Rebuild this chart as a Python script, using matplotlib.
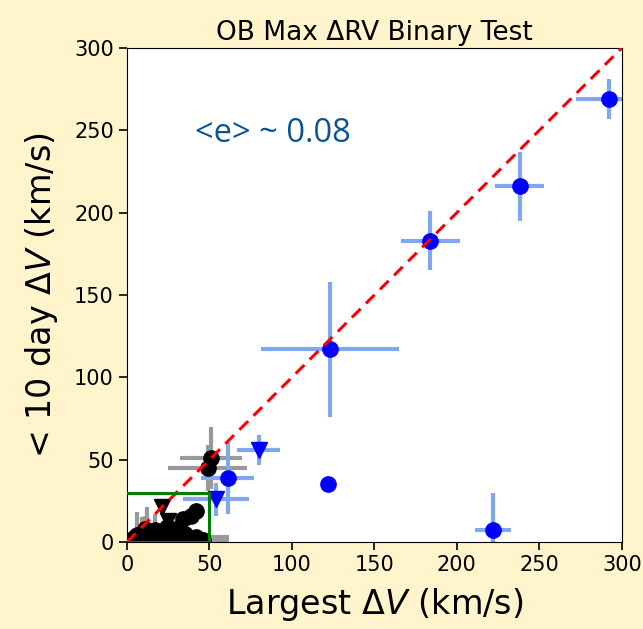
import numpy as np
import matplotlib.pyplot as plt

# Blue stars: circles (x, y, xerr, yerr)
blue_x = [292, 238, 184, 123, 61, 122, 222]
blue_y = [269, 216, 183, 117, 39, 35, 7]
blue_xerr = [20, 15, 18, 42, 16, 0, 11]
blue_yerr = [12, 21, 18, 41, 22, 0, 23]

# Blue triangles
bluet_x = [80, 54]
bluet_y = [56, 26]
bluet_xerr = [13, 20]
bluet_yerr = [9, 10]

# Black circles (small dV cluster)
blk_x = [51, 49, 34, 39, 42, 3, 6, 9, 12, 15, 18, 22, 25, 28, 31, 35, 38, 42, 46, 11, 17, 24, 30]
blk_y = [51, 45, 14, 16, 19, 2, 4, 3, 5, 3, 6, 4, 5, 3, 4, 5, 2, 3, 1, 8, 7, 9, 8]
blk_xerr = [19, 24, 4, 4, 3, 3, 4, 5, 4, 6, 5, 8, 6, 10, 9, 12, 16, 20, 16, 3, 4, 5, 4]
blk_yerr = [19, 14, 4, 3, 3, 5, 14, 12, 16, 6, 5, 4, 6, 3, 4, 3, 2, 3, 2, 8, 10, 6, 5]

# Black triangles
blkt_x = [21, 25]
blkt_y = [21, 13]

bg = '#fff4cc'
fig = plt.figure(figsize=(6.43, 6.29), dpi=100, facecolor=bg)
ax = fig.add_axes([0.1975, 0.1383, 0.7695, 0.7854])

ax.errorbar(blk_x, blk_y, xerr=blk_xerr, yerr=blk_yerr, fmt='none',
            ecolor='#999999', elinewidth=3, zorder=2)
ax.plot(blk_x, blk_y, 'o', color='black', ms=11, zorder=3)
ax.plot(blkt_x, blkt_y, 'v', color='black', ms=11, zorder=3)

ax.errorbar(blue_x, blue_y, xerr=blue_xerr, yerr=blue_yerr, fmt='none',
            ecolor='#7fa8f0', elinewidth=3, zorder=2)
ax.errorbar(bluet_x, bluet_y, xerr=bluet_xerr, yerr=bluet_yerr, fmt='none',
            ecolor='#7fa8f0', elinewidth=3, zorder=2)
ax.plot(blue_x, blue_y, 'o', color='blue', ms=11, zorder=3)
ax.plot(bluet_x, bluet_y, 'v', color='blue', ms=11, zorder=3)

# one-to-one line
ax.plot([0, 300], [0, 300], '--', color='red', lw=2.2, dashes=(4, 2.5), zorder=4)

# low-amplitude box
ax.plot([0, 50, 50, 0], [30, 30, 0, 0], color='green', lw=2.2, zorder=4)

ax.set_xlim(0, 300)
ax.set_ylim(0, 300)
ax.set_xticks(np.arange(0, 301, 50))
ax.set_yticks(np.arange(0, 301, 50))
ax.tick_params(labelsize=15, length=6, width=1.2)

ax.set_title('OB Max ΔRV Binary Test', fontsize=19, pad=6)
ax.set_xlabel(r'Largest $\Delta V$ (km/s)', fontsize=24, labelpad=8)
ax.set_ylabel(r'< 10 day $\Delta V$ (km/s)', fontsize=24, labelpad=10)

ax.text(41, 248, '<e> ~ 0.08', fontsize=23.5, color='#0b5394',
        family='Open Sans', va='center', ha='left')

fig.savefig('out.png', dpi=100, facecolor=bg)
